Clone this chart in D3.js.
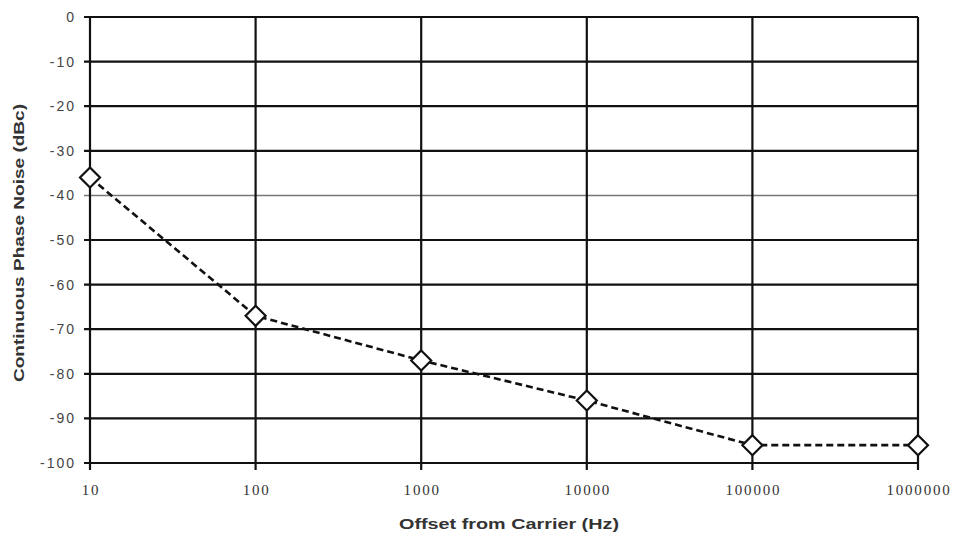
<!DOCTYPE html>
<html lang="en">
<head>
<meta charset="utf-8">
<title>Phase noise</title>
<script src="https://d3js.org/d3.v7.min.js"></script>
<style>
body { margin: 0; background: #fff; }
.ytick text { font-family: Arial, "Liberation Sans", sans-serif; font-size: 14px; fill: #444; letter-spacing: 2px; }
.xtick text { font-family: "Times New Roman", "Liberation Serif", serif; font-size: 15px; fill: #333; letter-spacing: 1.8px; }
.title { font-family: Arial, "Liberation Sans", sans-serif; font-size: 15px; font-weight: bold; fill: #333; }
</style>
</head>
<body>
<div id="chart"></div>
<script>
// offsets from carrier (Hz) and measured phase noise (dBc)
var offsets = [10, 100, 1000, 10000, 100000, 1000000];
var noise = [-36, -67, -77, -86, -96, -96];
var yTicks = [0, -10, -20, -30, -40, -50, -60, -70, -80, -90, -100];
var xTicks = [10, 100, 1000, 10000, 100000, 1000000];

var w = 953, h = 533;
// plot box (note: "top" is taken by window.top)
var plotL = 90, plotR = 918, plotT = 17, plotB = 463;

var svg = d3.select("#chart").append("svg")
  .attr("width", w)
  .attr("height", h);

var x = d3.scaleLog().domain([10, 1000000]).range([plotL, plotR]);
var y = d3.scaleLinear().domain([-100, 0]).range([plotB, plotT]);

// horizontal grid + left ticks
var yg = svg.append("g").attr("class", "ytick")
  .selectAll("g").data(yTicks).enter().append("g")
  .attr("transform", d => "translate(0," + y(d) + ")");
yg.append("line")
  .attr("x1", plotL - 6).attr("x2", plotR)
  .attr("stroke", d => d == -40 ? "#777" : "#111")
  .attr("stroke-width", d => d == -40 ? 1.5 : 2.2);
yg.append("text")
  .attr("x", plotL - 14).attr("dy", "0.35em")
  .attr("text-anchor", "end")
  .text(d => d);

// vertical grid + bottom ticks
var xg = svg.append("g").attr("class", "xtick")
  .selectAll("g").data(xTicks).enter().append("g")
  .attr("transform", d => "translate(" + x(d) + ",0)");
xg.append("line")
  .attr("y1", plotT).attr("y2", plotB + 7)
  .attr("stroke", "#111")
  .attr("stroke-width", 2.2);
xg.append("text")
  .attr("x", 1)
  .attr("y", plotB + 32)
  .attr("text-anchor", "middle")
  .text(d => d);

// dashed series line
var line = d3.line()
  .x((d, i) => x(offsets[i]))
  .y(d => y(d));

svg.append("path")
  .datum(noise)
  .attr("d", line)
  .attr("fill", "none")
  .attr("stroke", "#111")
  .attr("stroke-width", 2.6)
  .attr("stroke-dasharray", "7,4");

// diamond markers
svg.selectAll("path.pt")
  .data(noise)
  .enter().append("path")
  .attr("class", "pt")
  .attr("d", "M0,-10L10,0L0,10L-10,0Z")
  .attr("transform", (d, i) => "translate(" + x(offsets[i]) + "," + y(d) + ")")
  .attr("fill", "#fff")
  .attr("stroke", "#111")
  .attr("stroke-width", 2.2);

// axis titles
svg.append("text")
  .attr("class", "title")
  .attr("x", 509).attr("y", 529)
  .attr("text-anchor", "middle")
  .attr("textLength", 220)
  .attr("lengthAdjust", "spacingAndGlyphs")
  .text("Offset from Carrier (Hz)");

svg.append("text")
  .attr("class", "title")
  .attr("transform", "translate(24,243) rotate(-90)")
  .attr("text-anchor", "middle")
  .attr("textLength", 278)
  .attr("lengthAdjust", "spacingAndGlyphs")
  .text("Continuous Phase Noise (dBc)");
</script>
</body>
</html>
